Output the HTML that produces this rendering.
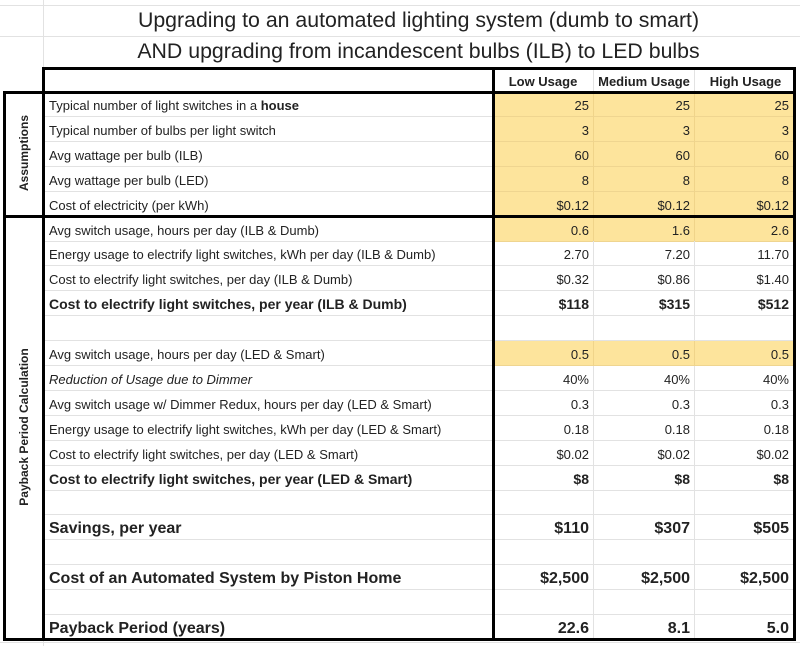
<!DOCTYPE html>
<html><head><meta charset="utf-8"><style>
*{margin:0;padding:0;box-sizing:border-box}
body{width:800px;height:646px;background:#fff;position:relative;overflow:hidden;font-family:"Liberation Sans",Arial,sans-serif;color:#222}
.r{position:absolute;left:43px;width:751px;height:25px;border-bottom:1px solid #e2e2e2;font-size:13px}
.l{position:absolute;left:6px;top:0;line-height:27px;white-space:nowrap}
.v{position:absolute;top:0;height:24px;line-height:27px;text-align:right;padding-right:4px;width:101px;border-right:1px solid #e2e2e2}
.a{left:450px}.b{left:551px}.c{left:652px;border-right:none;padding-right:7px}
.y .v{background:#fde49c;border-right-color:#f0d48a;height:25px;border-bottom:1px solid #efd590}
.bd{font-weight:bold;font-size:14px}
.bg{font-weight:bold;font-size:16px}
.bg .l,.bg .v{line-height:27px}
.it .l{font-style:italic}
.t{position:absolute;left:43px;width:751px;text-align:center;font-size:21.3px;color:#222}
.k{position:absolute;background:#000}
.g{position:absolute;background:#e2e2e2}
.vt{position:absolute;font-weight:bold;font-size:12px;transform:rotate(-90deg);white-space:nowrap;text-align:center}
</style></head><body>
<div class="g" style="left:0;top:5px;width:800px;height:1px"></div>
<div class="g" style="left:0;top:36px;width:800px;height:1px"></div>
<div class="g" style="left:43px;top:0;width:1px;height:646px"></div>
<div class="g" style="left:0;top:642px;width:800px;height:1px"></div>
<div class="t" style="top:8px">Upgrading to an automated lighting system (dumb to smart)</div>
<div class="t" style="top:39px">AND upgrading from incandescent bulbs (ILB) to LED bulbs</div>
<div class="r" style="top:68px;font-weight:bold;font-size:13px"><div class="v a" style="text-align:center;padding:0">Low Usage</div><div class="v b" style="text-align:center;padding:0">Medium Usage</div><div class="v c" style="text-align:center;padding:0">High Usage</div></div>

<div class="r y" style="top:92px"><span class="l">Typical number of light switches in a <b>house</b></span><div class="v a">25</div><div class="v b">25</div><div class="v c">25</div></div>
<div class="r y" style="top:116.9px"><span class="l">Typical number of bulbs per light switch</span><div class="v a">3</div><div class="v b">3</div><div class="v c">3</div></div>
<div class="r y" style="top:141.8px"><span class="l">Avg wattage per bulb (ILB)</span><div class="v a">60</div><div class="v b">60</div><div class="v c">60</div></div>
<div class="r y" style="top:166.7px"><span class="l">Avg wattage per bulb (LED)</span><div class="v a">8</div><div class="v b">8</div><div class="v c">8</div></div>
<div class="r y" style="top:191.6px"><span class="l">Cost of electricity (per kWh)</span><div class="v a">$0.12</div><div class="v b">$0.12</div><div class="v c">$0.12</div></div>
<div class="r y" style="top:216.5px"><span class="l">Avg switch usage, hours per day (ILB &amp; Dumb)</span><div class="v a">0.6</div><div class="v b">1.6</div><div class="v c">2.6</div></div>
<div class="r" style="top:241.4px"><span class="l">Energy usage to electrify light switches, kWh per day (ILB &amp; Dumb)</span><div class="v a">2.70</div><div class="v b">7.20</div><div class="v c">11.70</div></div>
<div class="r" style="top:266.3px"><span class="l">Cost to electrify light switches, per day (ILB &amp; Dumb)</span><div class="v a">$0.32</div><div class="v b">$0.86</div><div class="v c">$1.40</div></div>
<div class="r bd" style="top:291.2px"><span class="l">Cost to electrify light switches, per year (ILB &amp; Dumb)</span><div class="v a">$118</div><div class="v b">$315</div><div class="v c">$512</div></div>
<div class="r" style="top:316.1px"><div class="v a"></div><div class="v b"></div><div class="v c"></div></div>
<div class="r y" style="top:341px"><span class="l">Avg switch usage, hours per day (LED &amp; Smart)</span><div class="v a">0.5</div><div class="v b">0.5</div><div class="v c">0.5</div></div>
<div class="r it" style="top:365.9px"><span class="l">Reduction of Usage due to Dimmer</span><div class="v a">40%</div><div class="v b">40%</div><div class="v c">40%</div></div>
<div class="r" style="top:390.8px"><span class="l">Avg switch usage w/ Dimmer Redux, hours per day (LED &amp; Smart)</span><div class="v a">0.3</div><div class="v b">0.3</div><div class="v c">0.3</div></div>
<div class="r" style="top:415.7px"><span class="l">Energy usage to electrify light switches, kWh per day (LED &amp; Smart)</span><div class="v a">0.18</div><div class="v b">0.18</div><div class="v c">0.18</div></div>
<div class="r" style="top:440.6px"><span class="l">Cost to electrify light switches, per day (LED &amp; Smart)</span><div class="v a">$0.02</div><div class="v b">$0.02</div><div class="v c">$0.02</div></div>
<div class="r bd" style="top:465.5px"><span class="l">Cost to electrify light switches, per year (LED &amp; Smart)</span><div class="v a">$8</div><div class="v b">$8</div><div class="v c">$8</div></div>
<div class="r" style="top:490.4px"><div class="v a"></div><div class="v b"></div><div class="v c"></div></div>
<div class="r bg" style="top:515.3px"><span class="l">Savings, per year</span><div class="v a">$110</div><div class="v b">$307</div><div class="v c">$505</div></div>
<div class="r" style="top:540.2px"><div class="v a"></div><div class="v b"></div><div class="v c"></div></div>
<div class="r bg" style="top:565.1px"><span class="l">Cost of an Automated System by Piston Home</span><div class="v a">$2,500</div><div class="v b">$2,500</div><div class="v c">$2,500</div></div>
<div class="r" style="top:590px"><div class="v a"></div><div class="v b"></div><div class="v c"></div></div>
<div class="r bg" style="top:614.9px"><span class="l">Payback Period (years)</span><div class="v a">22.6</div><div class="v b">8.1</div><div class="v c">5.0</div></div>

<div class="k" style="left:42px;top:67px;width:754px;height:3px"></div>
<div class="k" style="left:3px;top:91px;width:793px;height:3px"></div>
<div class="k" style="left:3px;top:215px;width:793px;height:3px"></div>
<div class="k" style="left:3px;top:638px;width:793px;height:3px"></div>
<div class="k" style="left:3px;top:91px;width:3px;height:550px"></div>
<div class="k" style="left:42px;top:67px;width:3px;height:574px"></div>
<div class="k" style="left:492px;top:67px;width:3px;height:574px"></div>
<div class="k" style="left:793px;top:67px;width:3px;height:574px"></div>

<div class="vt" style="left:-26px;top:146px;width:100px">Assumptions</div>
<div class="vt" style="left:-76px;top:420px;width:200px">Payback Period Calculation</div>
</body></html>
